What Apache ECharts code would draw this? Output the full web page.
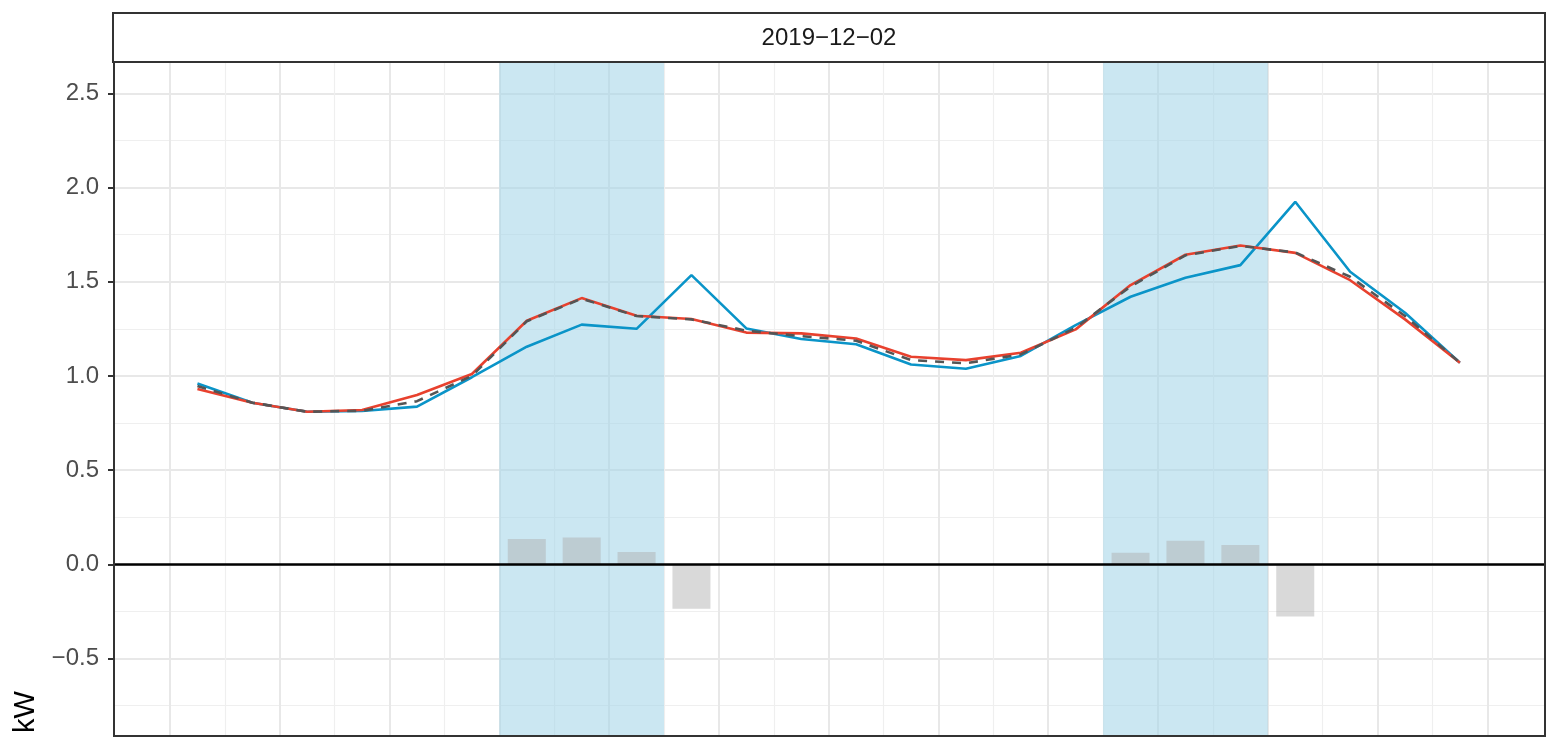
<!DOCTYPE html>
<html>
<head>
<meta charset="utf-8">
<script src="https://cdn.jsdelivr.net/npm/echarts@6/dist/echarts.min.js"></script>
<style>
  html, body { margin: 0; padding: 0; background: #fff; }
  #chart { width: 1548px; height: 739px; }
</style>
</head>
<body>
<div id="chart"></div>
<script>
// hour of day (bin centres)
var hours = [0.5, 1.5, 2.5, 3.5, 4.5, 5.5, 6.5, 7.5, 8.5, 9.5, 10.5, 11.5,
             12.5, 13.5, 14.5, 15.5, 16.5, 17.5, 18.5, 19.5, 20.5, 21.5, 22.5, 23.5];
// measured load (blue)
var actual = [0.96, 0.858, 0.81, 0.814, 0.837, 0.993, 1.155, 1.272, 1.25, 1.535, 1.252, 1.196,
              1.168, 1.061, 1.038, 1.106, 1.27, 1.42, 1.521, 1.588, 1.924, 1.553, 1.335, 1.07];
// red line
var shifted = [0.931, 0.858, 0.81, 0.819, 0.899, 1.01, 1.293, 1.413, 1.319, 1.302, 1.23, 1.226,
               1.199, 1.102, 1.084, 1.123, 1.247, 1.482, 1.643, 1.692, 1.653, 1.508, 1.30, 1.07];
// dashed grey line
var baseline = [0.946, 0.858, 0.81, 0.815, 0.866, 1.0, 1.29, 1.41, 1.318, 1.30, 1.24, 1.211,
                1.187, 1.084, 1.067, 1.114, 1.255, 1.475, 1.64, 1.69, 1.655, 1.526, 1.318, 1.07];
// difference bars
var barHours = [6.5, 7.5, 8.5, 9.5, 17.5, 18.5, 19.5, 20.5];
var barValues = [0.135, 0.142, 0.066, -0.236, 0.061, 0.125, 0.103, -0.277];
// shaded periods
var periods = [[6, 9], [17, 20]];
// axis breaks
var yMajor = [-0.5, 0, 0.5, 1, 1.5, 2, 2.5];
var yMinor = [-0.75, -0.25, 0.25, 0.75, 1.25, 1.75, 2.25];
var xMajor = [0, 2, 4, 6, 8, 10, 12, 14, 16, 18, 20, 22, 24];
var xMinor = [1, 3, 5, 7, 9, 11, 13, 15, 17, 19, 21, 23];
var facetLabel = '2019\u221212\u221202';

var FONT = "'Liberation Sans', Arial, sans-serif";

function pairs(xs, ys) {
    var out = [];
    for (var i = 0; i < xs.length; i++) out.push([xs[i], ys[i]]);
    return out;
}

var chart = echarts.init(document.getElementById('chart'));

function valAxis(pos, min, max, major, width, color, labels) {
    return {
        type: 'value',
        position: pos,
        min: min,
        max: max,
        axisLine: { show: false, onZero: false },
        axisTick: {
            show: labels,
            customValues: major,
            length: 6,
            lineStyle: { color: '#333', width: 2 }
        },
        axisLabel: {
            show: labels,
            customValues: major,
            margin: 15,
            fontFamily: FONT,
            fontSize: 24,
            color: '#4d4d4d',
            formatter: function (v) { return v.toFixed(1).replace('-', '\u2212'); }
        },
        splitLine: { show: true, lineStyle: { color: color, width: width } },
        minorSplitLine: { show: false }
    };
}

var option = {
    animation: false,
    grid: { left: 114, right: 3, top: 62, bottom: 3, containLabel: false },
    xAxis: [
        valAxis('bottom', -1.02, 25.05, xMajor, 2, '#e8e8e8', false),
        valAxis('bottom', -1.02, 25.05, xMinor, 1.2, '#efefef', false)
    ],
    yAxis: [
        valAxis('left', -0.911, 2.666, yMajor, 2, '#e8e8e8', true),
        valAxis('left', -0.911, 2.666, yMinor, 1.2, '#efefef', false)
    ],
    graphic: [
        {   // facet strip
            type: 'rect', z: 100,
            shape: { x: 113, y: 13, width: 1432, height: 49 },
            style: { fill: '#fff', stroke: '#333', lineWidth: 2 }
        },
        {
            type: 'text', z: 101, x: 829, y: 38,
            style: { text: facetLabel, font: '24px ' + FONT, fill: '#1a1a1a', align: 'center', verticalAlign: 'middle' }
        },
        {   // panel border
            type: 'rect', z: 100,
            shape: { x: 114, y: 62, width: 1431, height: 674 },
            style: { fill: null, stroke: '#333', lineWidth: 2 }
        },
        {
            type: 'text', z: 101, x: 26, y: 712, rotation: Math.PI / 2,
            style: { text: 'kW', font: '29px ' + FONT, fill: '#000', align: 'center', verticalAlign: 'middle' }
        }
    ],
    series: [
        {
            name: 'periods', type: 'line', data: [], z: 1, silent: true,
            markArea: {
                silent: true,
                itemStyle: { color: 'rgba(160,212,232,0.55)' },
                data: periods.map(function (p) { return [{ xAxis: p[0] }, { xAxis: p[1] }]; })
            }
        },
        {
            name: 'diff', type: 'bar', z: 2, barWidth: 38,
            data: pairs(barHours, barValues),
            itemStyle: { color: 'rgba(174,174,174,0.47)' }
        },
        {
            name: 'actual', type: 'line', z: 3, showSymbol: false,
            data: pairs(hours, actual),
            lineStyle: { color: '#0a94c8', width: 2.6 }
        },
        {
            name: 'shifted', type: 'line', z: 4, showSymbol: false,
            data: pairs(hours, shifted),
            lineStyle: { color: '#e8412e', width: 2.6 }
        },
        {
            name: 'baseline', type: 'line', z: 5, showSymbol: false,
            data: pairs(hours, baseline),
            lineStyle: { color: '#555', width: 2.6, type: [9, 8] }
        },
        {
            name: 'zero', type: 'line', data: [], z: 6, silent: true,
            markLine: {
                silent: true, symbol: ['none', 'none'],
                label: { show: false },
                lineStyle: { color: '#000', width: 2.5, type: 'solid' },
                data: [{ yAxis: 0 }]
            }
        }
    ]
};
chart.setOption(option);
</script>
</body>
</html>
